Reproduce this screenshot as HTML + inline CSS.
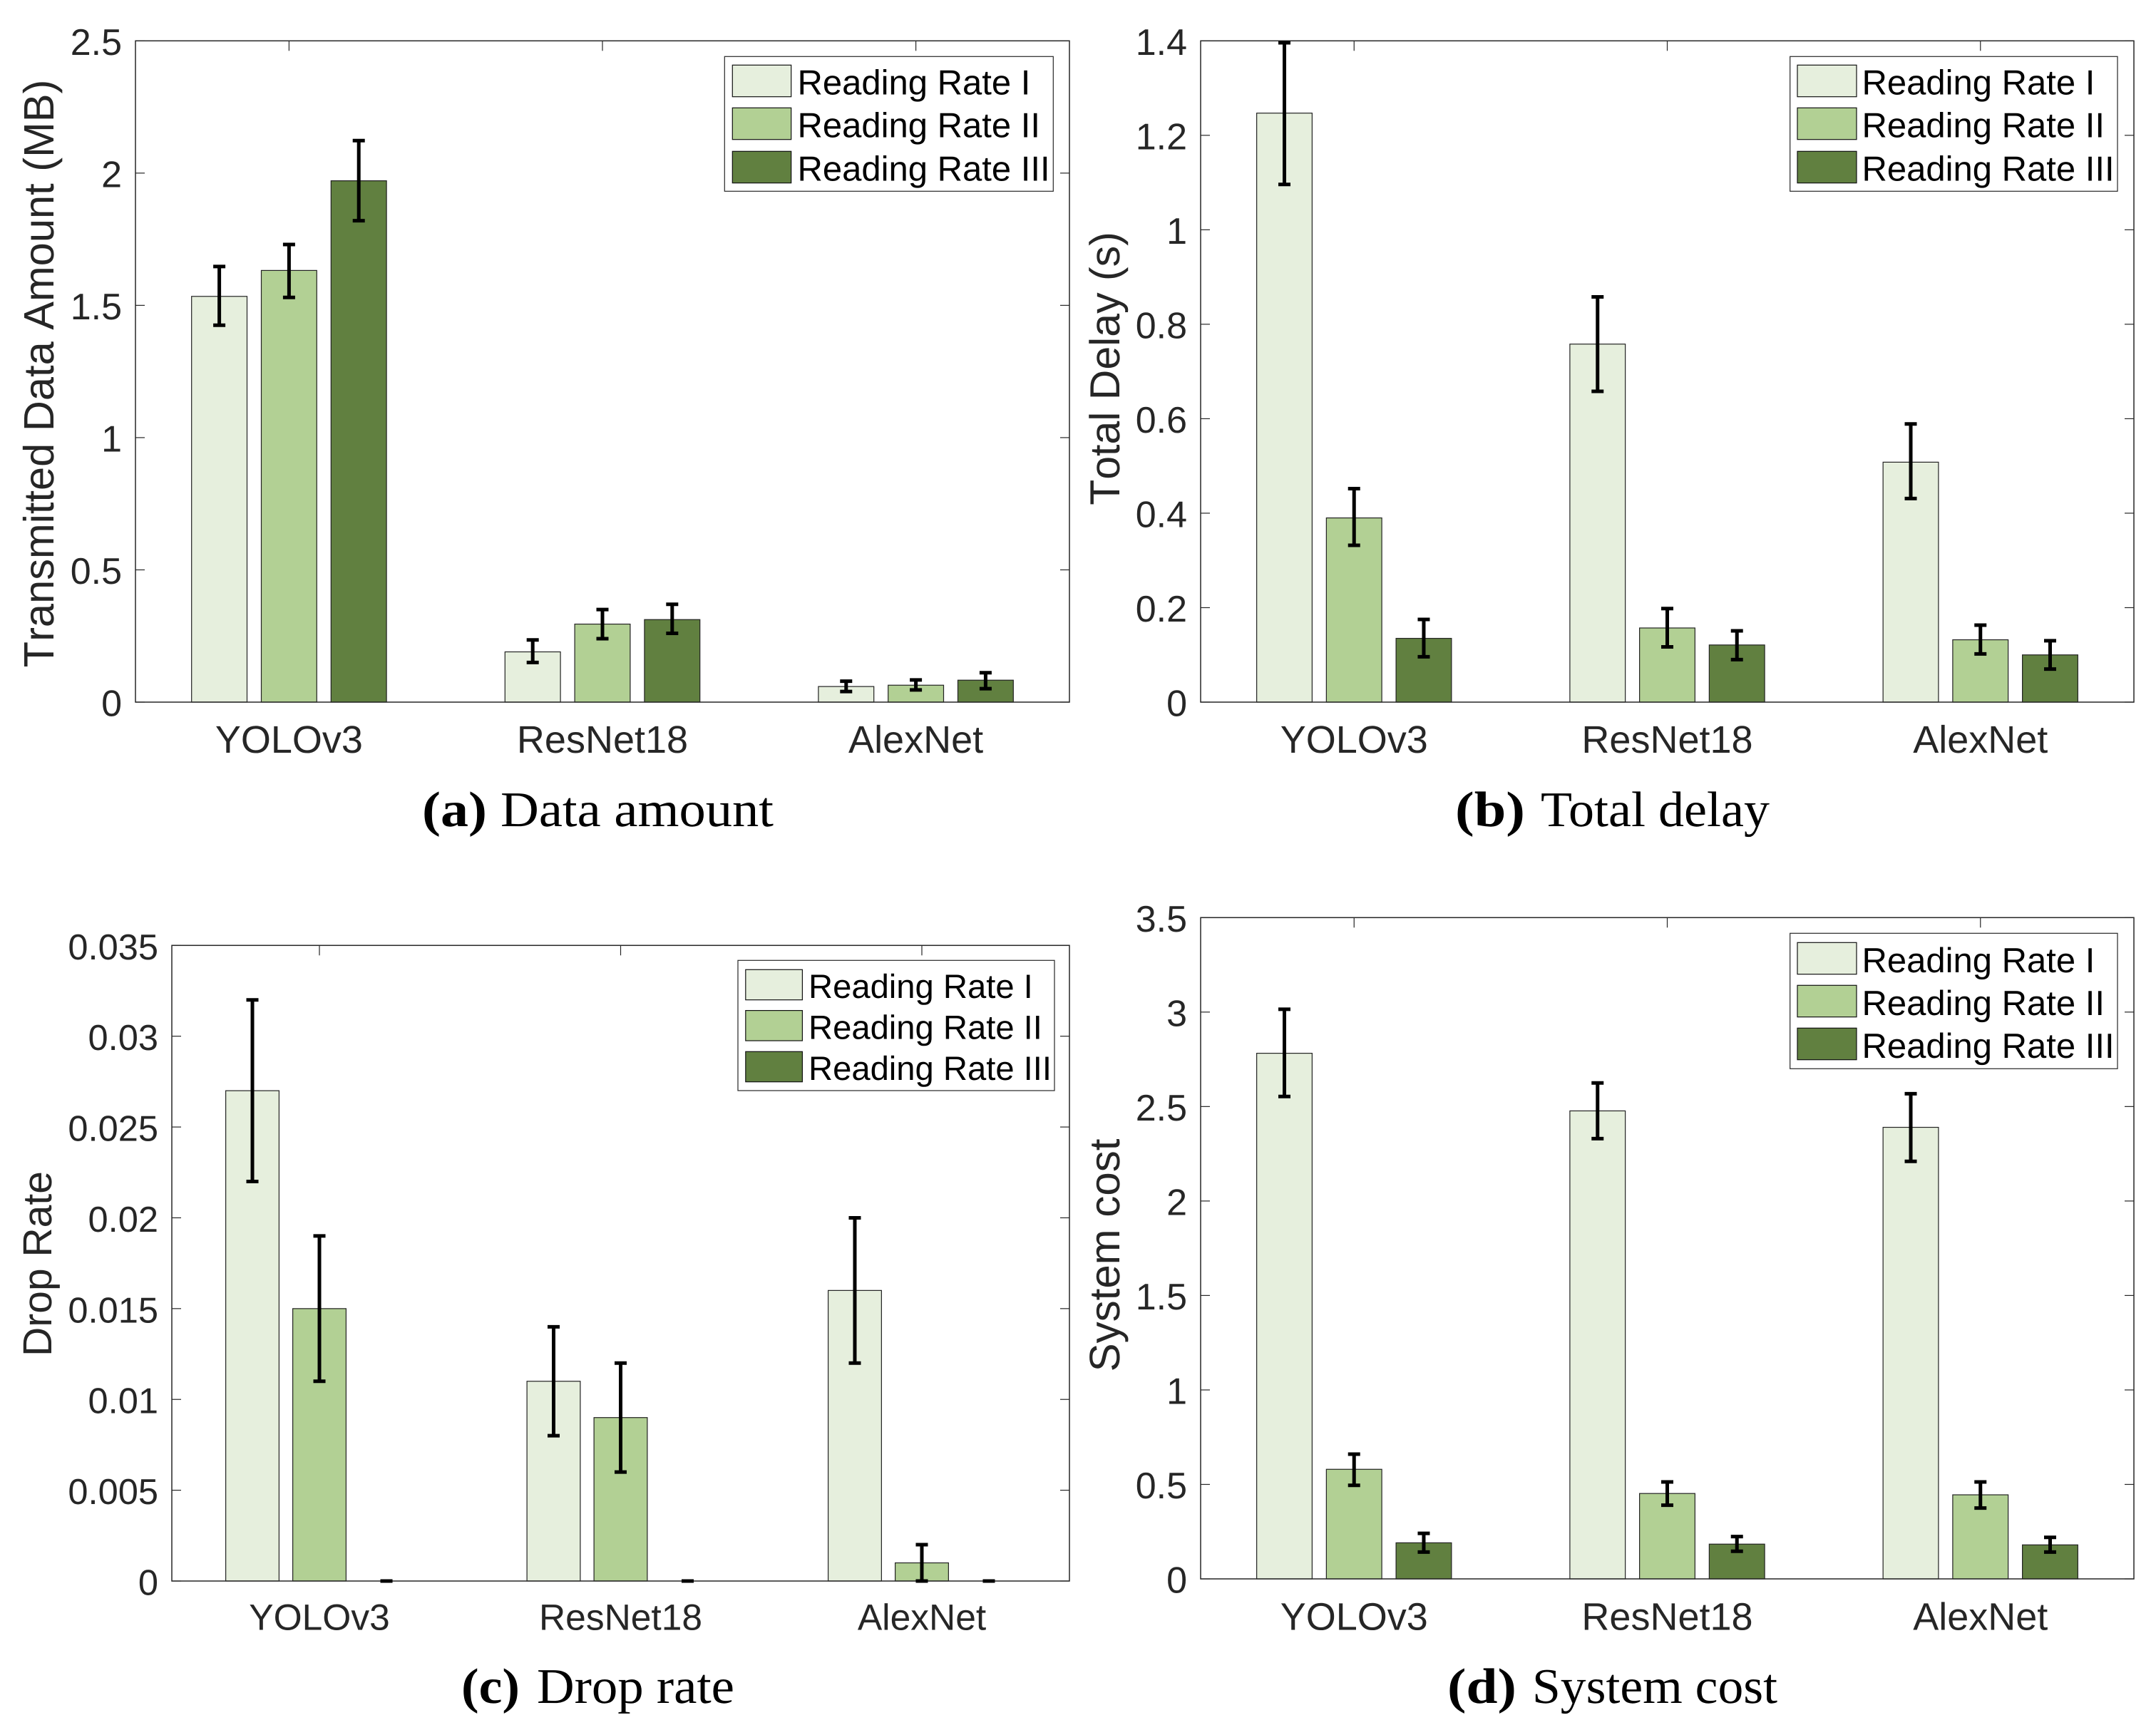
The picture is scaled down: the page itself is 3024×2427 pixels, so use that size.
<!DOCTYPE html>
<html lang="en">
<head>
<meta charset="utf-8">
<title>Reading rate comparison charts</title>
<style>
  html, body { margin: 0; padding: 0; background: #fff; }
  svg { display: block; text-rendering: geometricPrecision; }
  .sans { font-family: "Liberation Sans", sans-serif; font-kerning: none; }
  .serif { font-family: "Liberation Serif", serif; fill: #000; }
  .ytitle { font-family: "Liberation Sans", sans-serif; font-kerning: none; fill: #262626; text-anchor: middle; }
</style>
</head>
<body>
<svg id="figure" xmlns="http://www.w3.org/2000/svg" width="3024" height="2427" viewBox="0 0 3024 2427">
  <rect x="0" y="0" width="3024" height="2427" fill="#ffffff"/>

  <g id="panel-a"></g>
  <g id="panel-b"></g>
  <g id="panel-c"></g>
  <g id="panel-d"></g>

  <text class="ytitle" font-size="59.6" transform="translate(75 524) rotate(-90)">Transmitted Data Amount (MB)</text>
  <text class="ytitle" font-size="59" transform="translate(1570 517) rotate(-90)">Total Delay (s)</text>
  <text class="ytitle" font-size="57" transform="translate(72 1773) rotate(-90)">Drop Rate</text>
  <text class="ytitle" font-size="60" transform="translate(1570 1761) rotate(-90)">System cost</text>

  <text class="serif" font-weight="bold" font-size="70" x="592" y="1159" textLength="91" lengthAdjust="spacingAndGlyphs">(a)</text>
  <text class="serif" font-size="70" x="702" y="1159" textLength="383" lengthAdjust="spacingAndGlyphs">Data amount</text>
  <text class="serif" font-weight="bold" font-size="70" x="2041" y="1159" textLength="98" lengthAdjust="spacingAndGlyphs">(b)</text>
  <text class="serif" font-size="70" x="2161" y="1159" textLength="321" lengthAdjust="spacingAndGlyphs">Total delay</text>
  <text class="serif" font-weight="bold" font-size="70" x="647" y="2389" textLength="82" lengthAdjust="spacingAndGlyphs">(c)</text>
  <text class="serif" font-size="70" x="753" y="2389" textLength="277" lengthAdjust="spacingAndGlyphs">Drop rate</text>
  <text class="serif" font-weight="bold" font-size="70" x="2030" y="2389" textLength="97" lengthAdjust="spacingAndGlyphs">(d)</text>
  <text class="serif" font-size="70" x="2149" y="2389" textLength="344" lengthAdjust="spacingAndGlyphs">System cost</text>
</svg>

<script>
// ---- shared categories and series ----
const categories = ['YOLOv3', 'ResNet18', 'AlexNet'];
const seriesNames = ['Reading Rate I', 'Reading Rate II', 'Reading Rate III'];

// ---- (a) data amount ----
const amountTicks = [0, 0.5, 1, 1.5, 2, 2.5];
const amountTickLabels = ['0', '0.5', '1', '1.5', '2', '2.5'];
const amountRate1 = [1.534, 0.19, 0.059];
const amountRate2 = [1.632, 0.295, 0.064];
const amountRate3 = [1.971, 0.312, 0.083];
const amountLow1 = [1.425, 0.15, 0.04];
const amountLow2 = [1.53, 0.24, 0.046];
const amountLow3 = [1.82, 0.26, 0.051];
const amountHigh1 = [1.647, 0.235, 0.079];
const amountHigh2 = [1.73, 0.35, 0.084];
const amountHigh3 = [2.123, 0.37, 0.111];

// ---- (b) total delay ----
const delayTicks = [0, 0.2, 0.4, 0.6, 0.8, 1, 1.2, 1.4];
const delayTickLabels = ['0', '0.2', '0.4', '0.6', '0.8', '1', '1.2', '1.4'];
const delayRate1 = [1.247, 0.758, 0.508];
const delayRate2 = [0.39, 0.157, 0.132];
const delayRate3 = [0.135, 0.121, 0.1];
const delayLow1 = [1.096, 0.658, 0.431];
const delayLow2 = [0.332, 0.117, 0.102];
const delayLow3 = [0.096, 0.09, 0.07];
const delayHigh1 = [1.396, 0.858, 0.589];
const delayHigh2 = [0.452, 0.198, 0.163];
const delayHigh3 = [0.175, 0.151, 0.13];

// ---- (c) drop rate ----
const dropTicks = [0, 0.005, 0.01, 0.015, 0.02, 0.025, 0.03, 0.035];
const dropTickLabels = ['0', '0.005', '0.01', '0.015', '0.02', '0.025', '0.03', '0.035'];
const dropRate1 = [0.027, 0.011, 0.016];
const dropRate2 = [0.015, 0.009, 0.001];
const dropRate3 = [0, 0, 0];
const dropLow1 = [0.022, 0.008, 0.012];
const dropLow2 = [0.011, 0.006, 0];
const dropLow3 = [0, 0, 0];
const dropHigh1 = [0.032, 0.014, 0.02];
const dropHigh2 = [0.019, 0.012, 0.002];
const dropHigh3 = [0, 0, 0];

// ---- (d) system cost ----
const costTicks = [0, 0.5, 1, 1.5, 2, 2.5, 3, 3.5];
const costTickLabels = ['0', '0.5', '1', '1.5', '2', '2.5', '3', '3.5'];
const costRate1 = [2.782, 2.477, 2.39];
const costRate2 = [0.58, 0.452, 0.445];
const costRate3 = [0.191, 0.184, 0.18];
const costLow1 = [2.553, 2.33, 2.21];
const costLow2 = [0.495, 0.39, 0.375];
const costLow3 = [0.142, 0.146, 0.142];
const costHigh1 = [3.015, 2.625, 2.568];
const costHigh2 = [0.66, 0.513, 0.513];
const costHigh3 = [0.241, 0.224, 0.22];

// ---- drawing ----
const NS = 'http://www.w3.org/2000/svg';
const fills = ['#e6efdd', '#b2d094', '#618040'];
const inkColor = '#262626';

function make(tag, attrs, parent) {
  const el = document.createElementNS(NS, tag);
  for (const k in attrs) el.setAttribute(k, attrs[k]);
  parent.appendChild(el);
  return el;
}

function drawPanel(parent, box, ymax, ticks, tickLabels, values, lows, highs, legend, fonts) {
  const xScale = v => box.left + (v - 0.51) / 2.98 * (box.right - box.left);
  const yScale = v => box.bottom - v / ymax * (box.bottom - box.top);
  const unit = (box.right - box.left) / 2.98;

  // y ticks and labels
  ticks.forEach((t, i) => {
    const y = yScale(t);
    const left = make('line', { x1: box.left, x2: box.left + 13, y1: y, y2: y, stroke: inkColor, 'stroke-width': 1.2 }, parent);
    
    
    const right = make('line', { x1: box.right - 13, x2: box.right, y1: y, y2: y, stroke: inkColor, 'stroke-width': 1.2 }, parent);
    
    
    const label = make('text', { x: box.left - 19, y: y + 19.5, 'font-size': fonts.tick, 'text-anchor': 'end', fill: inkColor, class: 'sans' }, parent);
    
    
    label.textContent = tickLabels[i];
  });

  // x ticks and labels
  categories.forEach((c, i) => {
    const x = xScale(i + 1);
    const top = make('line', { x1: x, x2: x, y1: box.top, y2: box.top + 14, stroke: inkColor, 'stroke-width': 1.2 }, parent);
    
    
    const bottom = make('line', { x1: x, x2: x, y1: box.bottom - 14, y2: box.bottom, stroke: inkColor, 'stroke-width': 1.2 }, parent);
    
    
    const label = make('text', { x: x, y: box.labelY, 'font-size': fonts.cat, 'text-anchor': 'middle', fill: inkColor, class: 'sans' }, parent);
    
    
    label.textContent = c;
  });

  // bars
  values.forEach((series, s) => {
    series.forEach((v, i) => {
      const cx = xScale(i + 1 + (s - 1) * 0.2225);
      const w = 0.177 * unit;
      const bar = make('rect', { x: cx - w / 2, y: yScale(v), width: w, height: yScale(0) - yScale(v), fill: fills[s], stroke: '#222222', 'stroke-width': 1.2 }, parent);
      
      
    });
  });

  // box
  const frame = make('rect', { x: box.left, y: box.top, width: box.right - box.left, height: box.bottom - box.top, fill: 'none', stroke: inkColor, 'stroke-width': 1.5 }, parent);
  
  

  // error bars
  values.forEach((series, s) => {
    series.forEach((v, i) => {
      const cx = xScale(i + 1 + (s - 1) * 0.2225);
      const yLow = yScale(lows[s][i]);
      const yHigh = yScale(highs[s][i]);
      const stem = make('line', { x1: cx, x2: cx, y1: yLow, y2: yHigh, stroke: '#000', 'stroke-width': 5 }, parent);
      
      
      const capHigh = make('line', { x1: cx - 8.5, x2: cx + 8.5, y1: yHigh, y2: yHigh, stroke: '#000', 'stroke-width': 5 }, parent);
      
      
      const capLow = make('line', { x1: cx - 8.5, x2: cx + 8.5, y1: yLow, y2: yLow, stroke: '#000', 'stroke-width': 5 }, parent);
      
      
    });
  });

  // legend
  const lb = make('rect', { x: legend.x, y: legend.y, width: legend.w, height: legend.h, fill: '#fff', stroke: inkColor, 'stroke-width': 1.2 }, parent);
  
  
  seriesNames.forEach((name, s) => {
    const swatch = make('rect', { x: legend.swatchX, y: legend.rowY[s], width: legend.swatchW, height: legend.swatchH, fill: fills[s], stroke: '#111', 'stroke-width': 1.2 }, parent);
    
    
    const t = make('text', { x: legend.textX, y: legend.rowY[s] + legend.swatchH - legend.baseUp, 'font-size': legend.font, fill: '#000', class: 'sans' }, parent);
    
    
    t.textContent = name;
  });
}

drawPanel(document.getElementById('panel-a'),
  { left: 190, right: 1500, top: 57.3, bottom: 985, labelY: 1056 }, 2.5,
  amountTicks, amountTickLabels,
  [amountRate1, amountRate2, amountRate3],
  [amountLow1, amountLow2, amountLow3],
  [amountHigh1, amountHigh2, amountHigh3],
  { x: 1016.3, y: 79.3, w: 461, h: 189, swatchX: 1027.3, swatchW: 82.4, swatchH: 44.4, rowY: [91.3, 151.3, 212.3], textX: 1118.5, baseUp: 3, font: 49 },
  { tick: 52, cat: 54 });

drawPanel(document.getElementById('panel-b'),
  { left: 1684, right: 2993, top: 57.3, bottom: 985, labelY: 1056 }, 1.4,
  delayTicks, delayTickLabels,
  [delayRate1, delayRate2, delayRate3],
  [delayLow1, delayLow2, delayLow3],
  [delayHigh1, delayHigh2, delayHigh3],
  { x: 2510.7, y: 79.3, w: 459.3, h: 189, swatchX: 2521, swatchW: 83, swatchH: 44.4, rowY: [91.3, 151.3, 212.3], textX: 2611.5, baseUp: 3, font: 49 },
  { tick: 52, cat: 54 });

drawPanel(document.getElementById('panel-c'),
  { left: 241, right: 1500, top: 1326.3, bottom: 2218, labelY: 2286.7 }, 0.035,
  dropTicks, dropTickLabels,
  [dropRate1, dropRate2, dropRate3],
  [dropLow1, dropLow2, dropLow3],
  [dropHigh1, dropHigh2, dropHigh3],
  { x: 1035, y: 1347.3, w: 444, h: 182.7, swatchX: 1045.8, swatchW: 79.6, swatchH: 42.4, rowY: [1360.3, 1417.6, 1475.3], textX: 1134, baseUp: 2.7, font: 47.2 },
  { tick: 50.6, cat: 51.5 });

drawPanel(document.getElementById('panel-d'),
  { left: 1684, right: 2993, top: 1287.3, bottom: 2215, labelY: 2286.7 }, 3.5,
  costTicks, costTickLabels,
  [costRate1, costRate2, costRate3],
  [costLow1, costLow2, costLow3],
  [costHigh1, costHigh2, costHigh3],
  { x: 2510.7, y: 1309.3, w: 459.3, h: 190, swatchX: 2521, swatchW: 83, swatchH: 44.4, rowY: [1322.3, 1382.3, 1442.3], textX: 2611.5, baseUp: 2.5, font: 49 },
  { tick: 52, cat: 54 });
</script>
</body>
</html>
